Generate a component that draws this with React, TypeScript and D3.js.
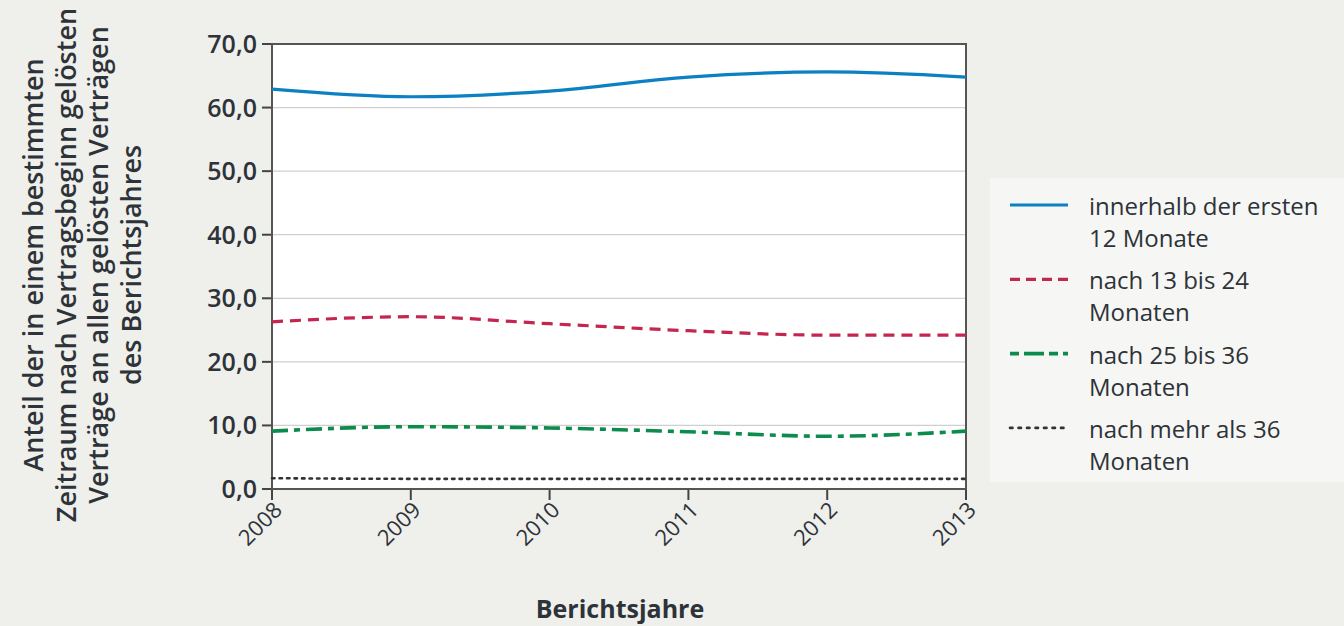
import React from 'react';
import * as d3 from 'd3';

const years = [2008, 2009, 2010, 2011, 2012, 2013];
const first12 = [62.9, 61.7, 62.6, 64.8, 65.6, 64.8];
const m13to24 = [26.3, 27.1, 26.0, 24.9, 24.2, 24.2];
const m25to36 = [9.1, 9.8, 9.6, 9.0, 8.3, 9.1];
const over36 = [1.7, 1.6, 1.6, 1.6, 1.6, 1.6];
const yTicks = [0, 10, 20, 30, 40, 50, 60, 70];

const seriesNames = [
	['innerhalb der ersten', '12 Monate'],
	['nach 13 bis 24', 'Monaten'],
	['nach 25 bis 36', 'Monaten'],
	['nach mehr als 36', 'Monaten'],
];
const yTitle = [
	'Anteil der in einem bestimmten',
	'Zeitraum nach Vertragsbeginn gelösten',
	'Verträge an allen gelösten Verträgen',
	'des Berichtsjahres',
];

const W = 1344;
const H = 626;
const margin = { top: 44, right: 378, bottom: 137, left: 272 };
const innerWidth = W - margin.left - margin.right;
const innerHeight = H - margin.top - margin.bottom;
const font = '"Open Sans", "Noto Sans", sans-serif';
const ink = '#2d3338';

const styles = [
	{ color: '#0b80c2', width: 3.2, dash: '' },
	{ color: '#c4264f', width: 3.2, dash: '11 7' },
	{ color: '#0c8c4c', width: 3.6, dash: '16 6 6 6' },
	{ color: '#333333', width: 2.6, dash: '2.5 5' },
];
const legendDash = ['', '10 6', '9 5 20 5', '2.5 6'];

const App: React.FC = () => {
	const x = d3.scaleLinear().domain([2008, 2013]).range([0, innerWidth]);
	const y = d3.scaleLinear().domain([0, 70]).range([innerHeight, 0]);
	const line = d3
		.line<number>()
		.x((d, i) => x(years[i]))
		.y((d) => y(d))
		.curve(d3.curveMonotoneX);
	const all = [first12, m13to24, m25to36, over36];

	return (
		<svg width={W} height={H} style={{ position: 'absolute', left: 0, top: 0 }}>
			<rect width={W} height={H} fill="#efefec" />
			<rect x={990} y={178} width={354} height={304} fill="#f6f6f4" />
			<g transform={`translate(${margin.left},${margin.top})`}>
				<rect width={innerWidth} height={innerHeight} fill="#ffffff" />
				{yTicks.map((t) => (
					<g key={t} transform={`translate(0,${y(t)})`}>
						<line x1={0} x2={innerWidth} stroke="#cfcfcf" strokeWidth={1.2} />
						<line x1={-10} x2={0} stroke="#444" strokeWidth={2} />
						<text
							x={-15}
							dy="0.36em"
							textAnchor="end"
							fontFamily={font}
							fontWeight={600}
							fontSize={25}
							fill={ink}
						>
							{t.toFixed(1).replace('.', ',')}
						</text>
					</g>
				))}
				{years.map((yr) => (
					<g key={yr} transform={`translate(${x(yr)},${innerHeight})`}>
						<line y1={0} y2={11} stroke="#444" strokeWidth={2} />
						<text
							transform="translate(6,17) rotate(-45)"
							textAnchor="end"
							dy="0.35em"
							fontFamily={font}
							fontSize={22}
							fill={ink}
						>
							{yr}
						</text>
					</g>
				))}
				<rect width={innerWidth} height={innerHeight} fill="none" stroke="#555" strokeWidth={2} />
				{all.map((s, i) => (
					<path
						key={i}
						d={line(s) || ''}
						fill="none"
						stroke={styles[i].color}
						strokeWidth={styles[i].width}
						strokeDasharray={styles[i].dash}
						strokeLinecap={i === 3 ? 'round' : 'butt'}
					/>
				))}
			</g>
			<g transform="translate(0,265) rotate(-90)">
				{yTitle.map((t, i) => (
					<text
						key={i}
						x={0}
						y={43 + i * 32.5}
						textAnchor="middle"
						fontFamily={font}
						fontWeight={600}
						fontSize={27}
						fill={ink}
					>
						{t}
					</text>
				))}
			</g>
			<text
				x={620}
				y={618}
				textAnchor="middle"
				fontFamily={font}
				fontWeight={700}
				fontSize={25}
				fill={ink}
			>
				Berichtsjahre
			</text>
			{seriesNames.map((n, i) => {
				const ly = 205 + i * 74.3;
				return (
					<g key={i}>
						<line
							x1={1010}
							x2={1068}
							y1={ly}
							y2={ly}
							stroke={styles[i].color}
							strokeWidth={styles[i].width}
							strokeDasharray={legendDash[i]}
							strokeLinecap={i === 3 ? 'round' : 'butt'}
						/>
						{n.map((t, j) => (
							<text
								key={j}
								x={1089}
								y={ly + 10 + j * 32}
								fontFamily={font}
								fontWeight={500}
								fontSize={24}
								fill={ink}
							>
								{t}
							</text>
						))}
					</g>
				);
			})}
		</svg>
	);
};

export default App;
